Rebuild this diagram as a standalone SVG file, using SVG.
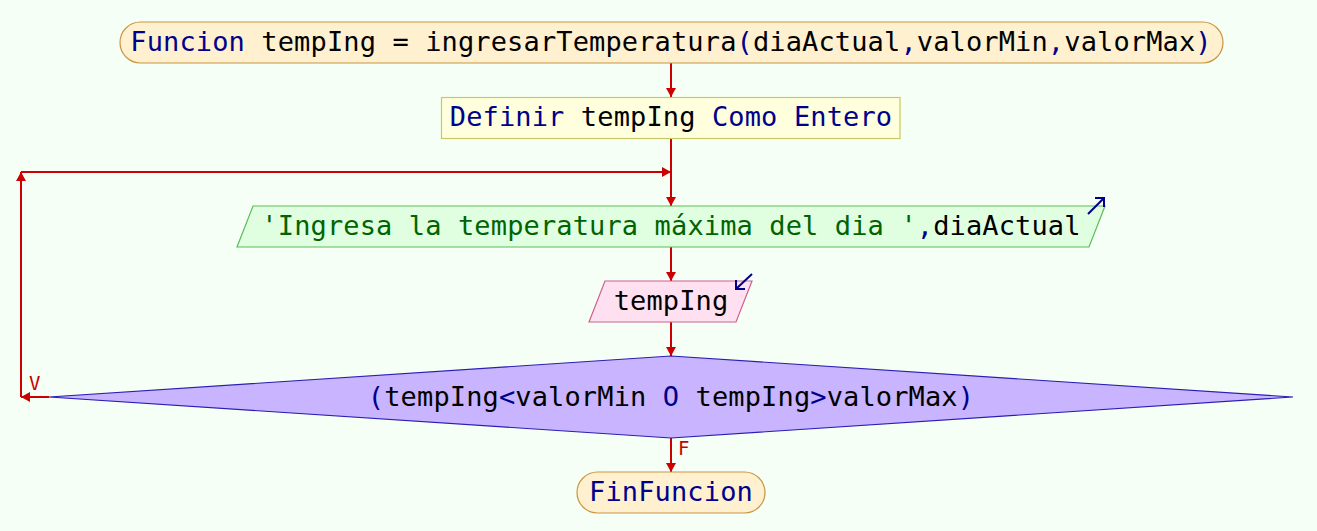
<svg xmlns="http://www.w3.org/2000/svg" width="1317" height="531" viewBox="0 0 1317 531">
<defs>
<style>
text{font-family:"DejaVu Sans Mono","Liberation Mono",monospace;font-size:27px;letter-spacing:0.13px;fill:#000}
.c{text-anchor:middle}
.kw{fill:#00008b}
.st{fill:#006400}
.lbl{font-size:19px;letter-spacing:0;fill:#cc0000}
.conn{stroke:#cc0000;stroke-width:2;fill:none}
.term{fill:#fff0d0;stroke:#c89640;stroke-width:1.2}
.proc{fill:#ffffdd;stroke:#c8c860;stroke-width:1.2}
.out{fill:#e0ffe0;stroke:#5cbc5c;stroke-width:1.2}
.in{fill:#ffe0f0;stroke:#d06090;stroke-width:1.2}
.dec{fill:#c8b4ff;stroke:#2a1eb4;stroke-width:1.2}
.ico{stroke:#00008b;stroke-width:2;fill:none}
</style>
<marker id="ah" viewBox="0 -5 9 10" refX="9" refY="0" markerWidth="9" markerHeight="10" markerUnits="userSpaceOnUse" orient="auto">
<path d="M0,-5 L9,0 L0,5 Z" fill="#cc0000"/>
</marker>
</defs>
<rect width="1317" height="531" fill="#f5fff5"/>
<g id="connectors">
<line class="conn" x1="671" y1="63" x2="671" y2="97" marker-end="url(#ah)"/>
<line class="conn" x1="671" y1="138" x2="671" y2="206" marker-end="url(#ah)"/>
<line class="conn" x1="671" y1="247" x2="671" y2="281" marker-end="url(#ah)"/>
<line class="conn" x1="671" y1="322" x2="671" y2="356" marker-end="url(#ah)"/>
<line class="conn" x1="671" y1="438" x2="671" y2="472" marker-end="url(#ah)"/>
<line class="conn" x1="49" y1="397" x2="21" y2="397" marker-end="url(#ah)"/>
<line class="conn" x1="21" y1="397" x2="21" y2="172" marker-end="url(#ah)"/>
<line class="conn" x1="21" y1="172" x2="671" y2="172" marker-end="url(#ah)"/>
<text class="lbl" x="29" y="390">V</text>
<text class="lbl" x="678" y="455">F</text>
</g>
<g id="n_inicio">
<rect class="term" x="120" y="22" width="1103" height="41" rx="20.5"/>
<text class="c" x="671" y="51"><tspan class="kw">Funcion</tspan> tempIng = ingresarTemperatura<tspan class="kw">(</tspan>diaActual<tspan class="kw">,</tspan>valorMin<tspan class="kw">,</tspan>valorMax<tspan class="kw">)</tspan></text>
</g>
<g id="n_definir">
<rect class="proc" x="441.5" y="97.5" width="458.5" height="41"/>
<text class="c" x="671" y="126"><tspan class="kw">Definir</tspan> tempIng <tspan class="kw">Como Entero</tspan></text>
</g>
<g id="n_escribir">
<polygon class="out" points="253,206 1105,206 1089,247 237,247"/>
<text class="c" x="671" y="235"><tspan class="st">'Ingresa la temperatura máxima del dia '</tspan><tspan class="kw">,</tspan>diaActual</text>
<path class="ico" d="M1088,214 L1104,198 M1095,198 L1104,198 L1104,207"/>
</g>
<g id="n_leer">
<polygon class="in" points="605,281 752,281 736,322 589,322"/>
<text class="c" x="671" y="310">tempIng</text>
<path class="ico" d="M752,274 L736,289 M745,289 L736,289 L736,280"/>
</g>
<g id="n_cond">
<polygon class="dec" points="671,356 1293,397 671,438 49,397"/>
<text class="c" x="671" y="406"><tspan class="kw">(</tspan>tempIng<tspan class="kw">&lt;</tspan>valorMin <tspan class="kw">O</tspan> tempIng<tspan class="kw">&gt;</tspan>valorMax<tspan class="kw">)</tspan></text>
</g>
<g id="n_fin">
<rect class="term" x="577" y="472" width="188" height="41" rx="20.5"/>
<text class="c" x="671" y="501"><tspan class="kw">FinFuncion</tspan></text>
</g>
</svg>
